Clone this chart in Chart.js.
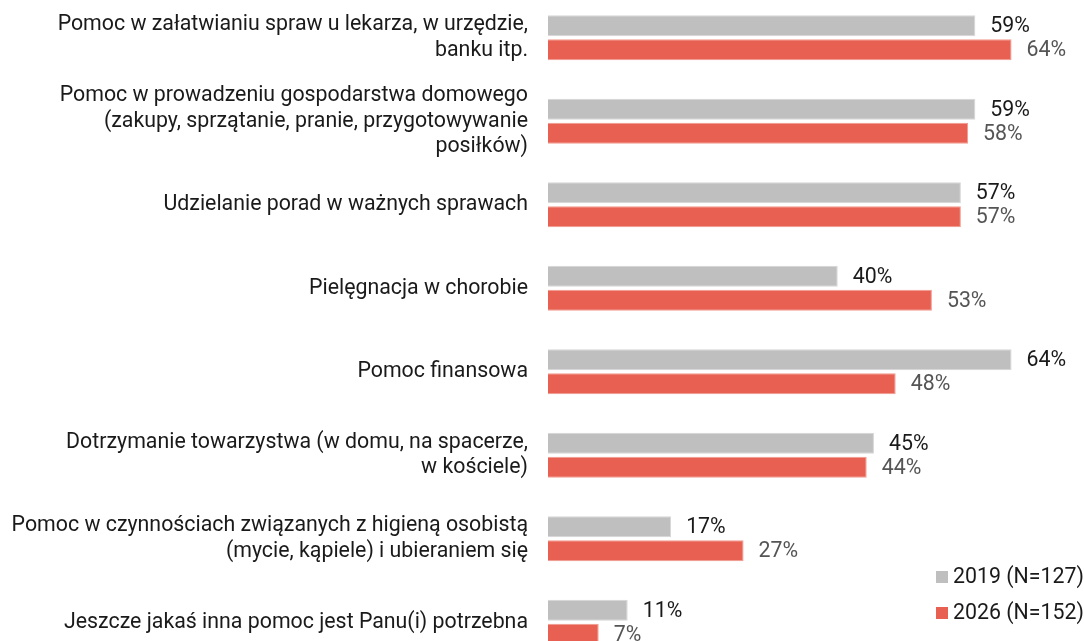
<!DOCTYPE html>
<html>
<head>
<meta charset="utf-8">
<script src="https://cdn.jsdelivr.net/npm/chart.js@4.4.1/dist/chart.umd.min.js"></script>
<style>
    html, body { margin: 0; padding: 0; background: #fff; overflow: hidden; }
    #wrap { position: relative; width: 1084px; height: 668px; margin-top: -4px; }
</style>
</head>
<body>
<div id="wrap"><canvas id="helpChart"></canvas></div>
<script>
// Categories (multi-line labels)
const categories = [
    ['Pomoc w załatwianiu spraw u lekarza, w urzędzie,', 'banku itp.'],
    ['Pomoc w prowadzeniu gospodarstwa domowego', '(zakupy, sprzątanie, pranie, przygotowywanie', 'posiłków)'],
    ['Udzielanie porad w ważnych sprawach'],
    ['Pielęgnacja w chorobie'],
    ['Pomoc finansowa'],
    ['Dotrzymanie towarzystwa (w domu, na spacerze,', 'w kościele)'],
    ['Pomoc w czynnościach związanych z higieną osobistą', '(mycie, kąpiele) i ubieraniem się'],
    ['Jeszcze jakaś inna pomoc jest Panu(i) potrzebna'],
];

const values2019 = [59, 59, 57, 40, 64, 45, 17, 11];
const values2026 = [64, 58, 57, 53, 48, 44, 27, 7];

const seriesLabels = ['2019 (N=127)', '2026 (N=152)'];

const FONT = 'Roboto, "Noto Sans", sans-serif';
const FONT_SIZE = 21.33;

// Percent labels to the right of each bar
const valueLabels = {
    id: 'valueLabels',
    afterDatasetsDraw(chart) {
        const ctx = chart.ctx;
        ctx.save();
        ctx.font = FONT_SIZE + 'px ' + FONT;
        ctx.textBaseline = 'middle';
        ctx.textAlign = 'left';
        chart.data.datasets.forEach((ds, di) => {
            const meta = chart.getDatasetMeta(di);
            ctx.fillStyle = di === 0 ? '#1a1a1a' : '#555555';
            meta.data.forEach((bar, i) => {
                ctx.fillText(ds.data[i] + '%', bar.x + 15, bar.y + 1);
            });
        });
        ctx.restore();
    },
};

// Legend in the bottom-right corner
const cornerLegend = {
    id: 'cornerLegend',
    afterDraw(chart) {
        const ctx = chart.ctx;
        ctx.save();
        ctx.font = FONT_SIZE + 'px ' + FONT;
        ctx.textBaseline = 'middle';
        ctx.textAlign = 'left';
        const x = 936;
        const rows = [581, 617];
        chart.data.datasets.forEach((ds, i) => {
            ctx.fillStyle = ds.backgroundColor;
            ctx.fillRect(x, rows[i] - 6, 12, 12);
            ctx.fillStyle = '#1a1a1a';
            ctx.fillText(ds.label, x + 17, rows[i] + 1);
        });
        ctx.restore();
    },
};

new Chart(document.getElementById('helpChart'), {
    type: 'bar',
    data: {
        labels: categories,
        datasets: [
            {
                label: seriesLabels[0],
                data: values2019,
                backgroundColor: '#bfbfbf',
                borderColor: '#d6d6d6',
                borderWidth: 1,
                categoryPercentage: 0.575,
                barPercentage: 0.875,
            },
            {
                label: seriesLabels[1],
                data: values2026,
                backgroundColor: '#e86051',
                borderColor: '#f09a8f',
                borderWidth: 1,
                categoryPercentage: 0.575,
                barPercentage: 0.875,
            },
        ],
    },
    options: {
        indexAxis: 'y',
        responsive: true,
        maintainAspectRatio: false,
        animation: false,
        layout: { padding: 0, autoPadding: false },
        plugins: {
            legend: { display: false },
            tooltip: { enabled: false },
        },
        scales: {
            x: {
                display: false,
                min: 0,
                max: 74,
            },
            y: {
                grid: { display: false },
                border: { display: false },
                afterFit(scale) {
                    scale.width = 548;
                    scale.paddingTop = 0;
                    scale.paddingBottom = 0;
                },
                ticks: {
                    padding: 12,
                    color: '#1a1a1a',
                    font: { family: FONT, size: FONT_SIZE, lineHeight: 1.2 },
                },
            },
        },
    },
    plugins: [valueLabels, cornerLegend],
});
</script>
</body>
</html>
